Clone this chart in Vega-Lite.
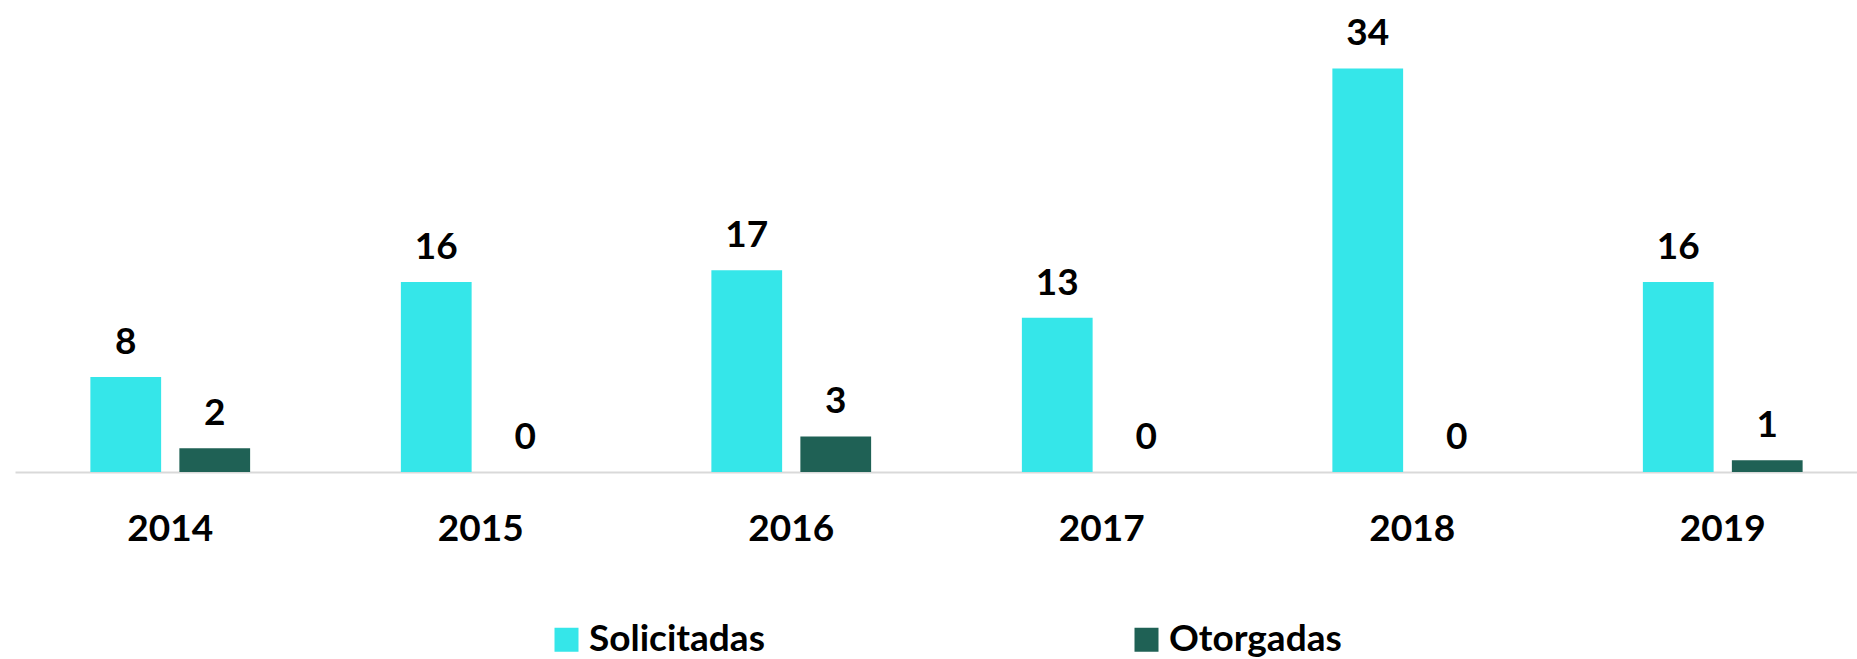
{
  "$schema": "https://vega.github.io/schema/vega-lite/v6.json",
  "width": 1842,
  "height": 451,
  "autosize": "none",
  "padding": {"left": 15, "top": 21, "right": 0, "bottom": 187},
  "background": "white",
  "data": {
    "values": [
      {"year": "2014", "serie": "Solicitadas", "valor": 8},
      {"year": "2014", "serie": "Otorgadas", "valor": 2},
      {"year": "2015", "serie": "Solicitadas", "valor": 16},
      {"year": "2015", "serie": "Otorgadas", "valor": 0},
      {"year": "2016", "serie": "Solicitadas", "valor": 17},
      {"year": "2016", "serie": "Otorgadas", "valor": 3},
      {"year": "2017", "serie": "Solicitadas", "valor": 13},
      {"year": "2017", "serie": "Otorgadas", "valor": 0},
      {"year": "2018", "serie": "Solicitadas", "valor": 34},
      {"year": "2018", "serie": "Otorgadas", "valor": 0},
      {"year": "2019", "serie": "Solicitadas", "valor": 16},
      {"year": "2019", "serie": "Otorgadas", "valor": 1}
    ]
  },
  "encoding": {
    "x": {
      "field": "year",
      "type": "nominal",
      "scale": {"range": [0, 1863], "paddingInner": 0, "paddingOuter": 0},
      "axis": {
        "title": null,
        "labelAngle": 0,
        "domain": true,
        "domainColor": "#D9D9D9",
        "domainWidth": 2,
        "ticks": false,
        "tickSize": 0,
        "labelFont": "Lato",
        "labelFontSize": 37,
        "labelFontWeight": "bold",
        "labelColor": "#000000",
        "labelPadding": 39,
        "grid": false
      }
    },
    "xOffset": {
      "field": "serie",
      "type": "nominal",
      "sort": ["Solicitadas", "Otorgadas"],
      "scale": {"paddingInner": 0.205, "paddingOuter": 0.847}
    },
    "y": {
      "field": "valor",
      "type": "quantitative",
      "scale": {"domain": [0, 38]},
      "axis": null
    }
  },
  "layer": [
    {
      "mark": {"type": "bar"},
      "encoding": {
        "color": {
          "field": "serie",
          "type": "nominal",
          "scale": {"domain": ["Solicitadas", "Otorgadas"], "range": ["#35E6E9", "#1F6155"]},
          "legend": {
            "title": null,
            "orient": "none",
            "direction": "horizontal",
            "legendX": 533,
            "legendY": 600,
            "padding": 0,
            "symbolType": "square",
            "symbolSize": 576,
            "symbolStrokeWidth": 0,
            "symbolOpacity": 1,
            "labelOffset": 4,
            "labelFont": "Lato",
            "labelFontSize": 37,
            "labelFontWeight": "bold",
            "labelColor": "#000000",
            "labelLimit": 400,
            "columnPadding": 363
          }
        }
      }
    },
    {
      "mark": {
        "type": "text",
        "baseline": "alphabetic",
        "dy": -23,
        "font": "Lato",
        "fontSize": 37,
        "fontWeight": "bold",
        "color": "#000000"
      },
      "encoding": {
        "text": {"field": "valor", "type": "quantitative"}
      }
    }
  ],
  "config": {"view": {"stroke": null}}
}
